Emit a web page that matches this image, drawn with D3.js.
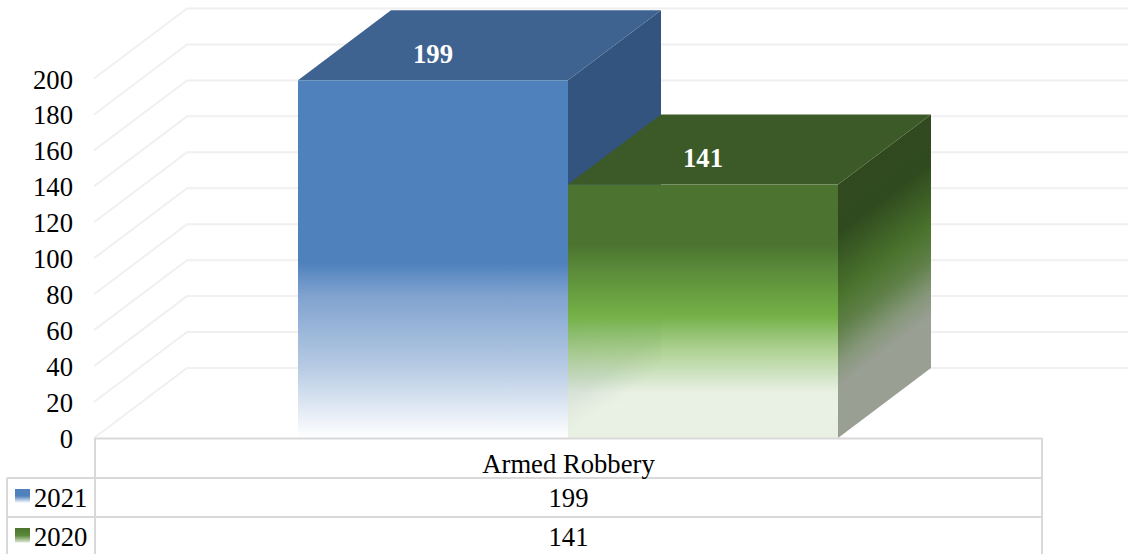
<!DOCTYPE html>
<html><head><meta charset="utf-8">
<script src="https://cdn.jsdelivr.net/npm/d3@7"></script>
<style>html,body{margin:0;padding:0;background:#fff;overflow:hidden}svg{display:block}text{font-family:"Liberation Serif","Times New Roman",serif}</style>
</head><body><div id="chart"></div>
<script>
const category = "Armed Robbery";
const seriesNames = ["2021", "2020"];
const seriesValues = [199, 141];
const tickValues = [0,20,40,60,80,100,120,140,160,180,200];

const W=1128,H=554,FS=26.67;
const svg=d3.select("#chart").append("svg").attr("width",W).attr("height",H);
const y=d3.scaleLinear().domain([0,200]).range([438,78.5]);
const x=d3.scaleBand().domain(seriesNames).range([298,838]);
const dx=93,dy=-70;
const slope=dy/dx;
const defs=svg.append("defs");

function grad(id,y0,y1,stops,skewX){
  const g=defs.append("linearGradient").attr("id",id).attr("gradientUnits","userSpaceOnUse")
    .attr("x1",0).attr("x2",0).attr("y1",y0).attr("y2",y1);
  if(skewX!=null) g.attr("gradientTransform",`matrix(1,${slope},0,1,0,${-slope*skewX})`);
  stops.forEach(s=>g.append("stop").attr("offset",s[0]).attr("stop-color",s[1]).attr("stop-opacity",s[2]==null?1:s[2]));
}
const top21=y(199),top20=y(141),base=y(0);
grad("blueFront",top21,base,[[0,"#4F81BD"],[0.51,"#4F81BD"],[0.6,"#7fa2cf"],[0.8,"#b6cae3"],[1,"#ffffff"]]);
grad("blueSide",top21,base,[[0,"#33547E"],[0.62,"#33547E"],[0.75,"#5a7698"],[0.9,"#8a9cb0"],[1,"#ffffff"]],568);
grad("greenFront",top20,base,[[0,"#4C7430"],[0.24,"#4C7430"],[0.33,"#5A8A3A"],[0.52,"#74B146"],[0.585,"#8DBF6B",0.96],[0.664,"#ACD08E",0.92],[0.76,"#CDE1C0",0.88],[0.82,"#E5EEDE",0.86],[0.88,"#E8F0E2",0.9],[1,"#E8F0E2",0.97]]);
grad("greenSide",top20,base,[[0,"#32491F"],[0.19,"#2F4A1E"],[0.44,"#4A732D"],[0.57,"#5F8048"],[0.7,"#86977A"],[0.8,"#9A9F94"],[1,"#9A9F94"]],838);
grad("sw21",489,503,[[0,"#4F81BD"],[0.5,"#4F81BD"],[1,"#ffffff"]]);
grad("sw20",528,543,[[0,"#4C7430"],[0.5,"#5A8A3A"],[1,"#E8F0E2"]]);

// back wall grid
const line=d3.line();
svg.append("g").selectAll("path").data(tickValues).join("path")
  .attr("d",v=>line([[94,y(v)],[94+dx,y(v)+dy],[W,y(v)+dy]]))
  .attr("fill","none").attr("stroke","#F0F0F0").attr("stroke-width",2);

// bars
const barColors={"2021":{front:"url(#blueFront)",side:"url(#blueSide)",top:"#3F6390"},
                 "2020":{front:"url(#greenFront)",side:"url(#greenSide)",top:"#3C5A27"}};
const labels=[];
const bars=svg.append("g").selectAll("g").data(seriesNames).join("g");
bars.each(function(n,i){
  const g=d3.select(this),v=seriesValues[i],x0=x(n),x1=x0+x.bandwidth(),yt=y(v),c=barColors[n];
  g.append("path").attr("fill",c.side).attr("d",line([[x1,yt],[x1+dx,yt+dy],[x1+dx,base+dy],[x1,base]])+"Z");
  g.append("path").attr("fill",c.top).attr("d",line([[x0,yt],[x0+dx,yt+dy],[x1+dx,yt+dy],[x1,yt]])+"Z");
  g.append("rect").attr("x",x0).attr("y",yt).attr("width",x1-x0).attr("height",base-yt).attr("fill",c.front);
  labels.push({v,x:(x0+x1)/2,y:yt+dy/2+17.5});
});
svg.append("g").selectAll("text").data(labels).join("text")
  .attr("x",d=>d.x).attr("y",d=>d.y).attr("text-anchor","middle")
  .attr("font-size",FS).attr("font-weight","bold").attr("fill","#fff").text(d=>d.v);

// y axis
const axis=svg.append("g").attr("transform","translate(94,0)").call(d3.axisLeft(y).tickValues(tickValues).tickSize(0).tickPadding(21));
axis.select(".domain").remove();
axis.selectAll("text").attr("font-size",FS).attr("fill","#000").attr("font-family",'"Liberation Serif"').attr("dy","9.5px");

// data table
const tx0=95,tx1=1042,tl=7;
const rowY=d3.scaleBand().domain(seriesNames).range([478,556]);
const tg=svg.append("g").attr("stroke","#D9D9D9").attr("stroke-width",2);
[[tx0,438.5,tx1,438.5],[tx0,438,tx0,H],[tx1,438,tx1,H],[tl,478,tl,H]].forEach(a=>
  tg.append("line").attr("x1",a[0]).attr("y1",a[1]).attr("x2",a[2]).attr("y2",a[3]));
tg.selectAll(".r").data(seriesNames).join("line").attr("class","r")
  .attr("x1",tl).attr("x2",tx1).attr("y1",n=>rowY(n)).attr("y2",n=>rowY(n));
const cx=(tx0+tx1)/2;
svg.append("text").attr("x",cx).attr("y",473).attr("text-anchor","middle").attr("font-size",FS).attr("fill","#000").text(category);
svg.append("g").selectAll("rect").data(seriesNames).join("rect")
  .attr("x",15).attr("y",n=>rowY(n)+11).attr("width",15).attr("height",14.5).attr("fill",(n,i)=>i?"url(#sw20)":"url(#sw21)");
const rows=svg.append("g").selectAll("g").data(seriesNames).join("g").attr("transform",n=>`translate(0,${rowY(n)})`);
rows.append("text").attr("x",34).attr("y",29).attr("font-size",FS).attr("fill","#000").text(n=>n);
rows.append("text").attr("x",cx).attr("y",29).attr("text-anchor","middle").attr("font-size",FS).attr("fill","#000").text((n,i)=>seriesValues[i]);
</script></body></html>
